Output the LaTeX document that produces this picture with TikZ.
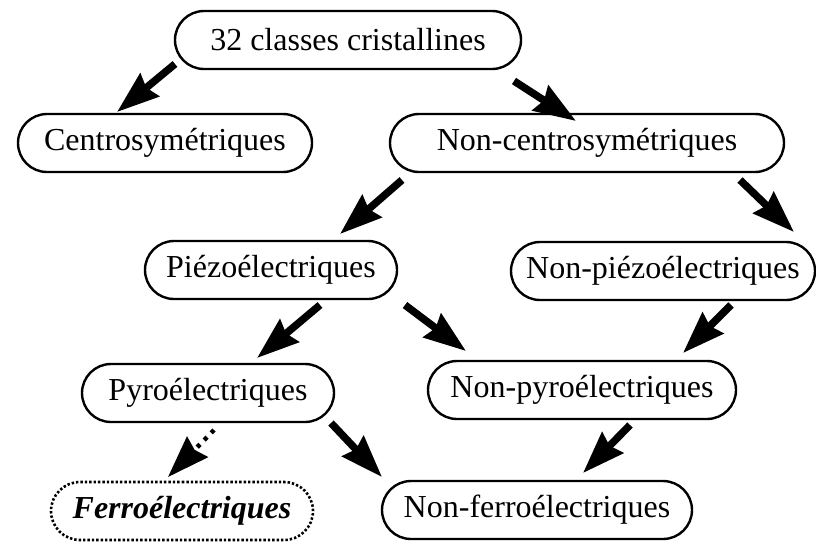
\documentclass[tikz,border=0pt]{standalone}
\usepackage{fontspec}
\setmainfont{Liberation Serif}
\usetikzlibrary{arrows.meta,shapes.misc}
\begin{document}
\begin{tikzpicture}[x=1pt,y=-1pt,
  box/.style={draw,line width=2.4pt,rounded rectangle,minimum height=58pt,inner sep=0pt,
    font=\fontsize{32}{36}\selectfont},
  dotbox/.style={box,dotted,line width=2.6pt,font=\fontsize{32}{36}\selectfont\bfseries\itshape},
  bigarrow/.style={line width=7.5pt,-{Triangle[length=42pt,width=29pt,inset=4pt]}},
  dotarrow/.style={line width=4.5pt,dash pattern=on 4pt off 6pt,-{Triangle[length=42pt,width=29pt,inset=4pt,sep=0pt]}}]
\useasboundingbox (0,0) rectangle (816,542);
\node[box,minimum width=346pt] (top) at (348,40) {32 classes cristallines};
\node[box,minimum width=294pt] (centro) at (165,143) {Centrosymétriques};
\node[box,minimum width=394pt] (ncentro) at (587,143) {Non-centrosymétriques};
\node[box,minimum width=252pt] (piezo) at (271,270) {Piézoélectriques};
\node[box,minimum width=304pt] (npiezo) at (663,271) {Non-piézoélectriques};
\node[box,minimum width=252pt] (pyro) at (208,393) {Pyroélectriques};
\node[box,minimum width=308pt] (npyro) at (582,390) {Non-pyroélectriques};
\node[dotbox,minimum width=262pt] (ferro) at (182,511) {Ferroélectriques};
\node[box,minimum width=310pt] (nferro) at (537,510) {Non-ferroélectriques};
% arrow end points
\coordinate (a1s) at (175,64);  \coordinate (a1e) at (117,112);
\coordinate (a2s) at (514,81);  \coordinate (a2e) at (576,121);
\coordinate (a3s) at (402,180); \coordinate (a3e) at (340,234);
\coordinate (a4s) at (740,180); \coordinate (a4e) at (794,232);
\coordinate (a5s) at (320,305); \coordinate (a5e) at (257,358);
\coordinate (a6s) at (405,305); \coordinate (a6e) at (466,351);
\coordinate (a7s) at (731,305); \coordinate (a7e) at (683,353);
\coordinate (a8s) at (214,430); \coordinate (a8e) at (168,477);
\coordinate (a9s) at (331,423); \coordinate (a9e) at (382,477);
\coordinate (a10s) at (630,425); \coordinate (a10e) at (583,473);
\draw[bigarrow] (a1s) -- (a1e);
\draw[bigarrow] (a2s) -- (a2e);
\draw[bigarrow] (a3s) -- (a3e);
\draw[bigarrow] (a4s) -- (a4e);
\draw[bigarrow] (a5s) -- (a5e);
\draw[bigarrow] (a6s) -- (a6e);
\draw[bigarrow] (a7s) -- (a7e);
\draw[dotarrow] (a8s) -- (a8e);
\draw[bigarrow] (a9s) -- (a9e);
\draw[bigarrow] (a10s) -- (a10e);
\end{tikzpicture}
\end{document}
